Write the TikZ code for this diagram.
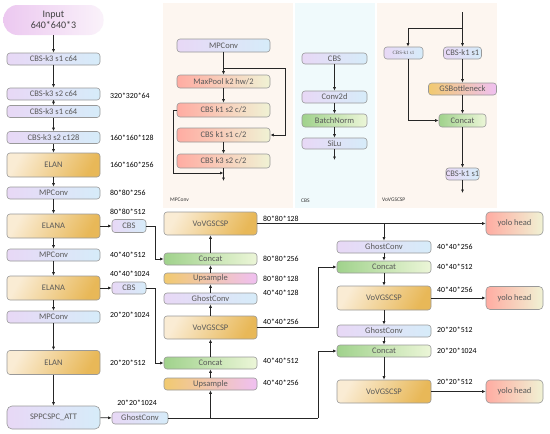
\documentclass[tikz,border=0pt]{standalone}
\usepackage{fontspec}
\setmainfont{Carlito}
\newfontfamily\serifsm{Liberation Serif}
\usetikzlibrary{arrows.meta}
\definecolor{lavL}{RGB}{232,216,246}
\definecolor{blueR}{RGB}{214,236,249}
\definecolor{creamL}{RGB}{250,236,212}
\definecolor{goldR}{RGB}{232,184,88}
\definecolor{greenL}{RGB}{160,210,140}
\definecolor{greenR}{RGB}{236,246,216}
\definecolor{upL}{RGB}{241,202,112}
\definecolor{upR}{RGB}{240,192,242}
\definecolor{salL}{RGB}{255,172,162}
\definecolor{salR}{RGB}{240,242,212}
\definecolor{inL}{RGB}{236,200,240}
\definecolor{inR}{RGB}{250,242,250}
\definecolor{panA}{RGB}{253,246,240}
\definecolor{panB}{RGB}{240,250,252}
\tikzset{
  box/.style={draw=black!40, rounded corners=3pt, inner sep=0pt, text=black!65,
    font=\fontsize{8.5}{9}\selectfont, line width=0.6pt},
  pb/.style={left color=lavL, right color=blueR},
  og/.style={left color=creamL, right color=goldR, shading angle=60},
  gr/.style={left color=greenL, right color=greenR},
  us/.style={left color=upL, right color=upR},
  sa/.style={left color=salL, right color=salR},
  lab/.style={font=\fontsize{7.8}{8}\selectfont, text=black, inner sep=0pt},
  plab/.style={font=\fontsize{5.5}{6}\selectfont, text=black!80, inner sep=0pt, anchor=west},
  arr/.style={-{Latex[length=3.5pt,width=3pt]}, line width=0.7pt, black!85},
  ln/.style={line width=0.7pt, black!85}
}
\begin{document}
\begin{tikzpicture}[x=1pt,y=-1pt]
\useasboundingbox (0,0) rectangle (550,434);
\fill[white] (0,0) rectangle (550,434);
% panels
\fill[panA] (163,3) rectangle (293,208);
\fill[panB] (295,3) rectangle (375,208);
\fill[panA] (377,3) rectangle (497,208);
\node[plab] (pl1) at (170,200) {MPConv};
\node[plab] (pl2) at (301,201) {CBS};
\node[plab] (pl3) at (382,200) {VoVGSCSP};

% left column
\node[left color=inL, right color=inR, rounded corners=14pt, minimum width=100pt, minimum height=30pt,
  align=center, font=\fontsize{10}{11.5}\selectfont, text=black!75, inner sep=0pt] (in) at (53.5,20) {Input\\640*640*3};
\node[box,pb,minimum width=93pt,minimum height=12pt] (c1) at (53.5,59) {CBS-k3 s1 c64};
\node[box,pb,minimum width=93pt,minimum height=12pt] (c2) at (53.5,94) {CBS-k3 s2 c64};
\node[box,pb,minimum width=93pt,minimum height=12pt] (c3) at (53.5,111.5) {CBS-k3 s1 c64};
\node[box,pb,minimum width=93pt,minimum height=12pt] (c4) at (53.5,137.5) {CBS-k3 s2 c128};
\node[box,og,minimum width=93pt,minimum height=24pt] (e1) at (53.5,165) {ELAN};
\node[box,pb,minimum width=93pt,minimum height=12pt] (mp1) at (53.5,193) {MPConv};
\node[box,og,minimum width=93pt,minimum height=24pt] (ea1) at (53.5,226) {ELANA};
\node[box,pb,minimum width=93pt,minimum height=12pt] (mp2) at (53.5,255) {MPConv};
\node[box,og,minimum width=93pt,minimum height=24pt] (ea2) at (53.5,288) {ELANA};
\node[box,pb,minimum width=93pt,minimum height=12pt] (mp3) at (53.5,317) {MPConv};
\node[box,og,minimum width=93pt,minimum height=24pt] (e2) at (53.5,362.5) {ELAN};
\node[box,pb,rounded corners=5pt,minimum width=93pt,minimum height=23pt] (spp) at (53.5,417.5) {SPPCSPC\_ATT};
\node[box,pb,minimum width=34pt,minimum height=13pt] (cb1) at (129,226) {CBS};
\node[box,pb,minimum width=34pt,minimum height=12pt] (cb2) at (129,288) {CBS};
\node[box,pb,minimum width=56pt,minimum height=12pt] (gcb) at (140,418) {GhostConv};

\draw[arr] (in) -- (c1);
\draw[arr] (c1) -- (c2);
\draw[arr] (c2) -- (c3);
\draw[arr] (c3) -- (c4);
\draw[arr] (c4) -- (e1);
\draw[arr] (e1) -- (mp1);
\draw[arr] (mp1) -- (ea1);
\draw[arr] (ea1) -- (mp2);
\draw[arr] (mp2) -- (ea2);
\draw[arr] (ea2) -- (mp3);
\draw[arr] (mp3) -- (e2);
\draw[arr] (e2) -- (spp);
\draw[arr] (ea1) -- (cb1);
\draw[arr] (ea2) -- (cb2);
\draw[arr] (spp) -- (gcb);

% left labels
\node[lab,anchor=west] (l1) at (110,96) {320*320*64};
\node[lab,anchor=west] (l2) at (110,137.5) {160*160*128};
\node[lab,anchor=west] (l3) at (110,165) {160*160*256};
\node[lab,anchor=west] (l4) at (110,193) {80*80*256};
\node[lab,anchor=west] (l5) at (110,212) {80*80*512};
\node[lab,anchor=west] (l6) at (110,255) {40*40*512};
\node[lab,anchor=west] (l7) at (110,274) {40*40*1024};
\node[lab,anchor=west] (l8) at (110,315) {20*20*1024};
\node[lab,anchor=west] (l9) at (110,363) {20*20*512};
\node[lab] (l10) at (137,403) {20*20*1024};

% middle column
\node[box,og,minimum width=93pt,minimum height=23pt] (vov1) at (210.5,223.5) {VoVGSCSP};
\node[box,gr,minimum width=93pt,minimum height=12pt] (cat1) at (210.5,259) {Concat};
\node[box,us,minimum width=93pt,minimum height=11pt] (up1) at (210.5,278.5) {Upsample};
\node[box,pb,minimum width=93pt,minimum height=11pt] (gh1) at (210.5,298.5) {GhostConv};
\node[box,og,minimum width=93pt,minimum height=23pt] (vov2) at (210.5,327.5) {VoVGSCSP};
\node[box,gr,minimum width=93pt,minimum height=12pt] (cat2) at (210.5,363) {Concat};
\node[box,us,minimum width=93pt,minimum height=12pt] (up2) at (210.5,384) {Upsample};

\draw[arr] (cat1) -- (vov1);
\draw[arr] (up1) -- (cat1);
\draw[arr] (gh1) -- (up1);
\draw[arr] (vov2) -- (gh1);
\draw[arr] (cat2) -- (vov2);
\draw[arr] (up2) -- (cat2);

\coordinate (k1) at (155,226);
\coordinate (k2) at (155,288);
\draw[arr] (cb1) -- (k1) |- (cat1);
\draw[arr] (cb2) -- (k2) |- (cat2);
\coordinate (g1) at (210.5,418);
\coordinate (g2) at (318,418);
\draw[arr] (gcb) -| (up2);
\draw[ln] (g1) -- (g2);

\node[lab,anchor=west] (m1l) at (263,219) {80*80*128};
\node[lab,anchor=west] (m2l) at (263,259) {80*80*256};
\node[lab,anchor=west] (m3l) at (263,279) {80*80*128};
\node[lab,anchor=west] (m4l) at (263,293) {40*40*128};
\node[lab,anchor=west] (m5l) at (263,322) {40*40*256};
\node[lab,anchor=west] (m6l) at (263,361) {40*40*512};
\node[lab,anchor=west] (m7l) at (263,383) {40*40*256};

% right column
\node[box,pb,minimum width=94pt,minimum height=12pt] (ghR) at (384,247) {GhostConv};
\node[box,gr,minimum width=94pt,minimum height=12pt] (catR) at (384,267) {Concat};
\node[box,og,minimum width=94pt,minimum height=24pt] (vovR) at (384,298) {VoVGSCSP};
\node[box,pb,minimum width=94pt,minimum height=12pt] (ghR2) at (384,331) {GhostConv};
\node[box,gr,minimum width=94pt,minimum height=12pt] (catR2) at (384,351) {Concat};
\node[box,og,minimum width=94pt,minimum height=23pt] (vovR2) at (384,391.5) {VoVGSCSP};
\node[box,sa,rounded corners=4pt,minimum width=57pt,minimum height=23pt] (y1) at (514.5,223.5) {yolo head};
\node[box,sa,rounded corners=4pt,minimum width=57pt,minimum height=23pt] (y2) at (514.5,298) {yolo head};
\node[box,sa,rounded corners=4pt,minimum width=57pt,minimum height=23pt] (y3) at (514.5,391.5) {yolo head};

\draw[arr] (vov1) -- (y1);
\coordinate (jR) at (384,223.5);
\draw[arr] (jR) -- (ghR);
\draw[arr] (ghR) -- (catR);
\draw[arr] (catR) -- (vovR);
\draw[arr] (vovR) -- (ghR2);
\draw[arr] (ghR2) -- (catR2);
\draw[arr] (catR2) -- (vovR2);
\draw[arr] (vovR) -- (y2);
\draw[arr] (vovR2) -- (y3);
\coordinate (k3) at (318,327.5);
\draw[arr] (vov2) -- (k3) |- (catR);
\draw[arr] (g2) |- (catR2);

\node[lab,anchor=west] (r1) at (437,247) {40*40*256};
\node[lab,anchor=west] (r2) at (437,267) {40*40*512};
\node[lab,anchor=west] (r3) at (437,290) {40*40*256};
\node[lab,anchor=west] (r4) at (437,330) {20*20*512};
\node[lab,anchor=west] (r5) at (437,351) {20*20*1024};
\node[lab,anchor=west] (r6) at (437,382) {20*20*512};

% MPConv inset
\node[box,pb,minimum width=93pt,minimum height=13pt] (m0) at (223.5,45.5) {MPConv};
\node[box,sa,minimum width=93pt,minimum height=13pt] (mm1) at (223.5,81.5) {MaxPool k2 hw/2};
\node[box,sa,minimum width=93pt,minimum height=14pt] (mm2) at (223.5,110) {CBS k1 s2 c/2};
\node[box,sa,minimum width=93pt,minimum height=14pt] (mm3) at (223.5,135) {CBS k1 s1 c/2};
\node[box,sa,minimum width=93pt,minimum height=14pt] (mm4) at (223.5,161) {CBS k3 s2 c/2};
\coordinate (mj) at (223.5,68);
\coordinate (mr) at (285,68);
\coordinate (ml) at (173,173);
\coordinate (mb) at (223.5,173);
\coordinate (mend) at (223.5,181);
\draw[arr] (m0) -- (mm1);
\draw[arr] (mj) -- (mr) |- (mm3);
\draw[arr] (mm1) -- (mm2);
\draw[arr] (mm3) -- (mm4);
\draw[arr] (mm4) -- (mend);
\draw[arr] (mm2.west) -| (ml) -- (mb);

% CBS inset
\node[box,pb,minimum width=65pt,minimum height=11pt] (b1) at (334.5,58.5) {CBS};
\node[box,pb,minimum width=65pt,minimum height=12pt] (b2) at (334.5,97) {Conv2d};
\node[box,gr,minimum width=65pt,minimum height=13pt] (b3) at (334.5,120.5) {BatchNorm};
\node[box,pb,minimum width=65pt,minimum height=11pt] (b4) at (334.5,143.5) {SiLu};
\coordinate (bend) at (334.5,160);
\draw[arr] (b1) -- (b2);
\draw[arr] (b2) -- (b3);
\draw[arr] (b3) -- (b4);
\draw[arr] (b4) -- (bend);

% VoVGSCSP inset
\node[box,pb,minimum width=39pt,minimum height=12pt,font=\serifsm\fontsize{5}{6}\selectfont] (v1) at (403.5,53) {CBS-k1 s1};
\node[box,pb,minimum width=38pt,minimum height=12pt] (v2) at (462.5,53) {CBS-k1 s1};
\node[box,us,minimum width=68pt,minimum height=12pt] (v3) at (462.5,89) {GSBottleneck};
\node[box,gr,minimum width=47pt,minimum height=13pt] (v4) at (462.5,120.5) {Concat};
\node[box,pb,minimum width=31pt,minimum height=12pt] (v5) at (462.5,174) {CBS-k1 s1};
\coordinate (vtop) at (462.5,12);
\coordinate (vj) at (462.5,28);
\coordinate (vl) at (408,28);
\coordinate (vend) at (462.5,193);
\draw[arr] (vtop) -- (v2);
\draw[arr] (vj) -- (vl) -- ([xshift=4.5pt]v1.north);
\draw[arr] ([xshift=4.5pt]v1.south) |- (v4);
\draw[arr] (v2) -- (v3);
\draw[arr] (v3) -- (v4);
\draw[arr] (v4) -- (v5);
\draw[arr] (v5) -- (vend);
\end{tikzpicture}
\end{document}
